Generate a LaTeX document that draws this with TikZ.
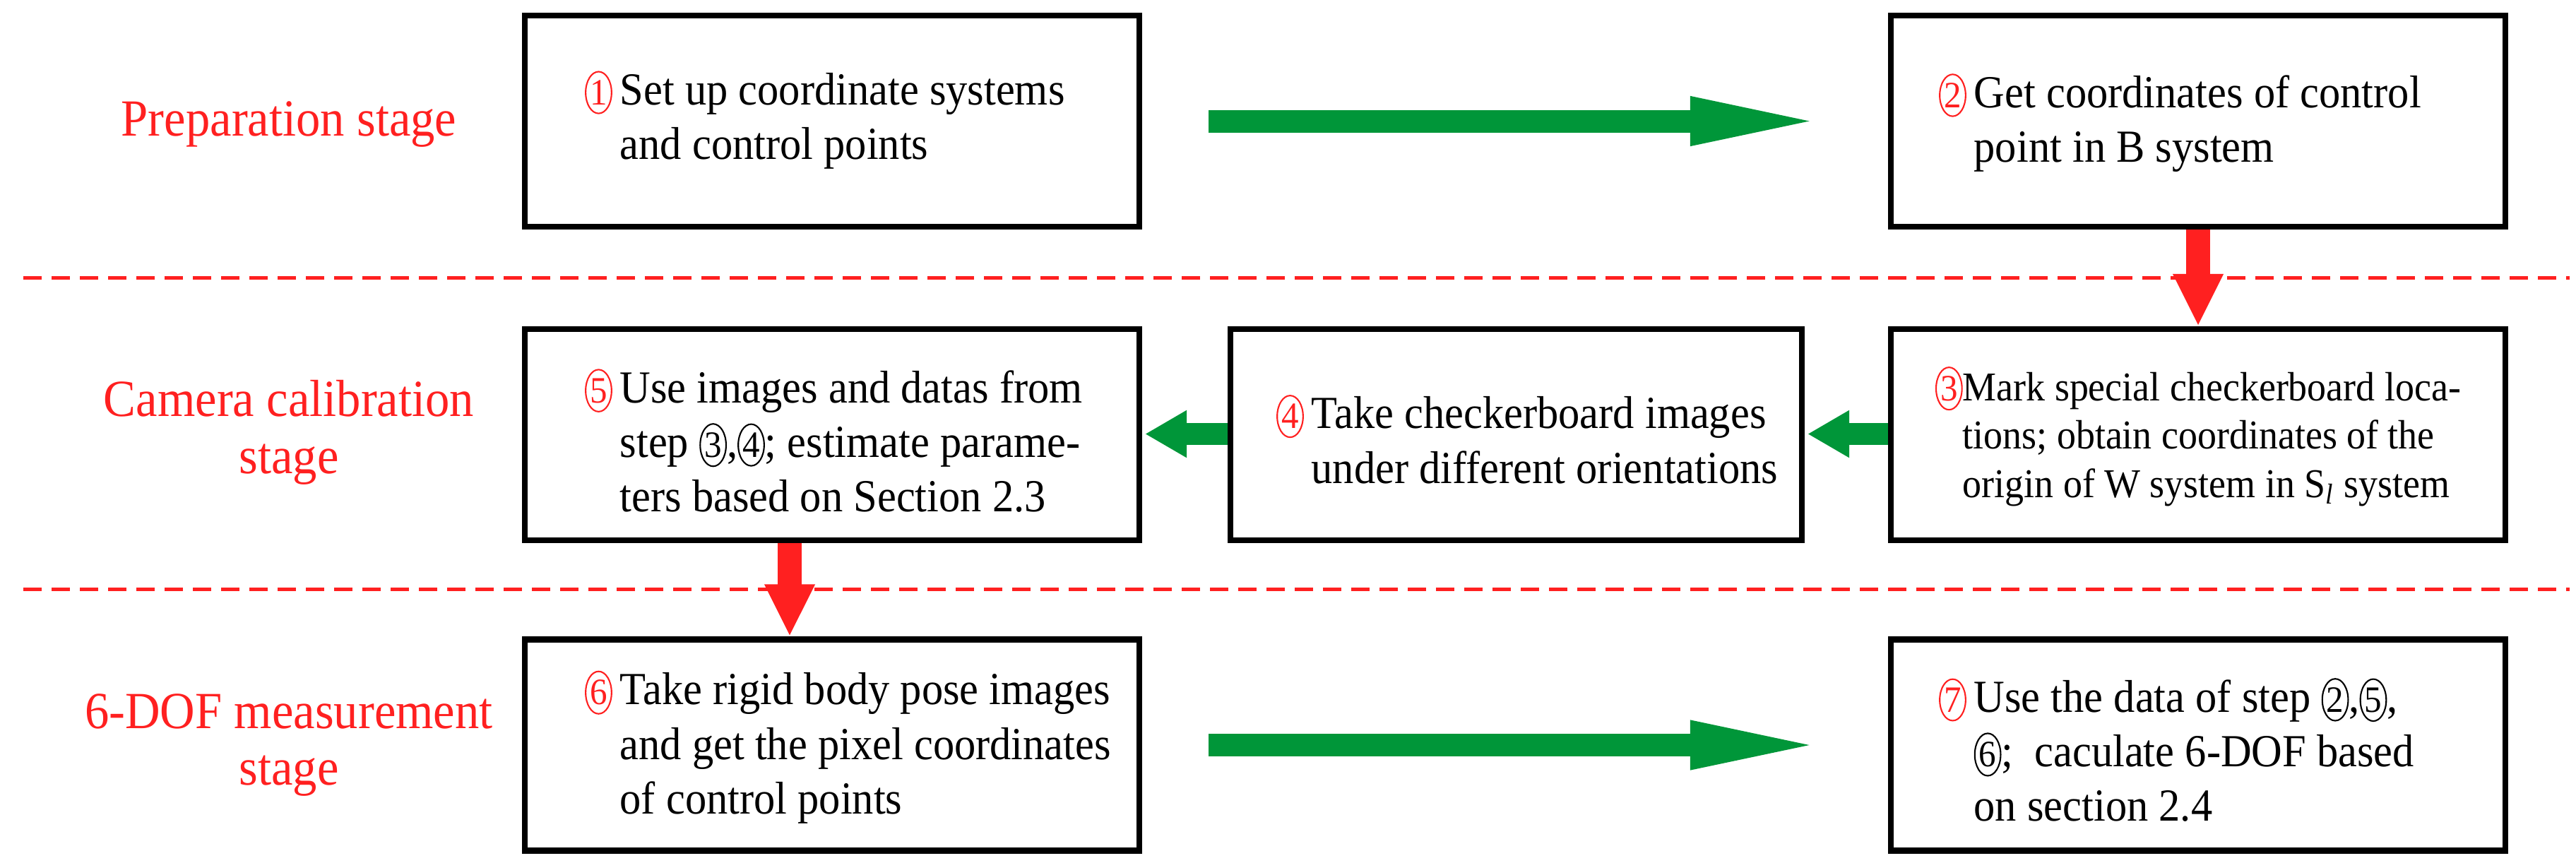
\documentclass[tikz,border=0pt]{standalone}
\usepackage{fontspec}
\setmainfont{Liberation Serif}[FakeStretch=0.93]
\usetikzlibrary{arrows.meta,calc,shapes.geometric}
\definecolor{rd}{HTML}{FF2020}
\definecolor{gr}{HTML}{009639}
\newcommand{\cnum}[1]{\tikz[baseline=(c.base)]\node[draw,ellipse,inner xsep=0.2pt,inner ysep=1pt,line width=0.6pt,font=\fontsize{15}{15}\selectfont](c){#1};}
\newcommand{\rnum}[1]{\textcolor{rd}{\tikz[baseline=(c.base)]\node[draw=rd,ellipse,inner xsep=0.2pt,inner ysep=1pt,line width=0.6pt,font=\fontsize{15}{15}\selectfont](c){#1};}}
\begin{document}
\begin{tikzpicture}[
  box/.style={draw,line width=2.3pt,minimum width=8.7cm,minimum height=2.99cm,inner sep=0},
  txt/.style={anchor=west,align=left,font=\fontsize{18.5}{22}\selectfont,inner sep=0},
  lab/.style={text=rd,align=center,font=\fontsize{21}{23}\selectfont},
  garrow/.style={gr,line width=0.32cm,-{Triangle[width=0.6cm,length=1.98cm]}},
  sgarrow/.style={gr,line width=0.31cm,-{Triangle[width=0.63cm,length=0.59cm]}},
  rarrow/.style={rd,line width=0.34cm,-{Triangle[width=0.66cm,length=0.74cm]}},
  sep/.style={rd,line width=0.05cm,dash pattern=on 0.26cm off 0.14cm}]
\useasboundingbox (0,0) rectangle (36.47,-12.21);
\node[box] (b1) at (11.78,-1.715) {};
\node[box] (b2) at (31.12,-1.715) {};
\node[box] (b5) at (11.78,-6.155) {};
\node[box,minimum width=8.09cm] (b4) at (21.465,-6.155) {};
\node[box] (b3) at (31.12,-6.155) {};
\node[box] (b6) at (11.78,-10.55) {};
\node[box] (b7) at (31.12,-10.55) {};
\node[txt] (t1) at (8.77,-1.70) {\llap{\rnum{1}\,}Set up coordinate systems\\and control points};
\node[txt] (t2) at (27.94,-1.74) {\llap{\rnum{2}\,}Get coordinates of control\\point in B system};
\node[txt] (t5) at (8.77,-6.24) {\llap{\rnum{5}\,}Use images and datas from\\step \cnum{3},\cnum{4}; estimate parame-\\ters based on Section 2.3};
\node[txt] (t4) at (18.56,-6.22) {\llap{\rnum{4}\,}Take checkerboard images\\under different orientations};
\node[txt,font=\fontsize{16.5}{19.5}\selectfont] (t3) at (27.78,-6.18) {\llap{\rnum{3}}Mark special checkerboard loca-\\tions; obtain coordinates of the\\origin of W system in S\textsubscript{\textit{l}} system};
\node[txt] (t6) at (8.77,-10.58) {\llap{\rnum{6}\,}Take rigid body pose images\\and get the pixel coordinates\\of control points};
\node[txt] (t7) at (27.94,-10.62) {\llap{\rnum{7}\,}Use the data of step \cnum{2},\cnum{5},\\\cnum{6};\ \ caculate 6-DOF based\\on section 2.4};
\node[lab] (l1) at (4.09,-1.76) {Preparation stage};
\node[lab] (l2) at (4.09,-6.12) {Camera calibration\\stage};
\node[lab] (l3) at (4.09,-10.55) {6-DOF measurement\\stage};
\coordinate (d1a) at (0.33,-3.93); \coordinate (d1b) at (36.38,-3.93);
\coordinate (d2a) at (0.33,-8.34); \coordinate (d2b) at (36.38,-8.34);
\draw[sep] (d1a) -- (d1b);
\draw[sep] (d2a) -- (d2b);
\draw[garrow] ([xshift=0.94cm]b1.east) -- ([xshift=-0.82cm]b2.west);
\draw[garrow] ([xshift=0.94cm]b6.east) -- ([xshift=-0.82cm]b7.west);
\draw[sgarrow] ([yshift=0.01cm]b3.west) -- ([xshift=0.04cm,yshift=0.01cm]b4.east);
\draw[sgarrow] ([yshift=0.01cm]b4.west) -- ([xshift=0.04cm,yshift=0.01cm]b5.east);
\draw[rarrow] (b2.south) -- (b3.north);
\draw[rarrow] ([xshift=-0.6cm]b5.south) -- ([xshift=-0.6cm]b6.north);
\end{tikzpicture}
\end{document}
